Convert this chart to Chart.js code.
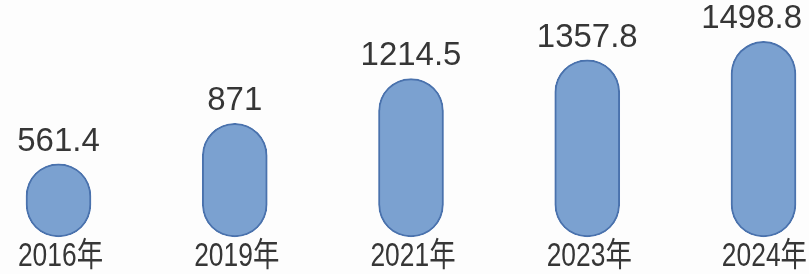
<!DOCTYPE html>
<html>
<head>
<meta charset="utf-8">
<script src="https://cdn.jsdelivr.net/npm/chart.js@4"></script>
<style>
  html, body { margin: 0; padding: 0; background: #fdfdfd; }
  #wrap { width: 809px; height: 274px; }
</style>
</head>
<body>
<div id="wrap"><canvas id="myChart"></canvas></div>
<script>
      const years = ['2016年', '2019年', '2021年', '2023年', '2024年'];
      const values = [561.4, 871, 1214.5, 1357.8, 1498.8];
      const valueLabels = ['561.4', '871', '1214.5', '1357.8', '1498.8'];

      const FONT = '"Liberation Sans", "Noto Sans CJK SC", sans-serif';

      // squeezed text, the picture uses a narrow face
      function narrowText(ctx, text, x, y, sx, maxRight) {
        const w = ctx.measureText(text).width * sx;
        if (maxRight && x + w / 2 > maxRight) x = maxRight - w / 2;
        ctx.save();
        ctx.translate(x, y);
        ctx.scale(sx, 1);
        ctx.fillText(text, 0, 0);
        ctx.restore();
      }

      // numbers above bars + year labels under them
      const labelPlugin = {
        id: 'value_labels',
        afterDatasetsDraw: (chart) => {
          const ctx = chart.ctx;
          const meta = chart.getDatasetMeta(0);
          const xScale = chart.scales.x;
          ctx.save();
          ctx.fillStyle = '#363636';
          ctx.textAlign = 'center';
          ctx.textBaseline = 'alphabetic';
          ctx.font = '34px ' + FONT;
          meta.data.forEach((bar, i) => {
            narrowText(ctx, valueLabels[i], bar.x, bar.y - 13, 0.97, chart.width - 7);
          });
          ctx.font = '33px ' + FONT;
          years.forEach((y, i) => {
            narrowText(ctx, y, xScale.getPixelForValue(i) + 2, chart.chartArea.bottom + 29, 0.8, chart.width - 2);
          });
          ctx.restore();
        }
      };

      const config = {
        type: 'bar',
        data: {
          labels: years,
          datasets: [{
            data: values,
            backgroundColor: '#7ba1d0',
            borderColor: '#4a72ad',
            borderWidth: 2,
            borderRadius: 40,
            borderSkipped: false,
            barThickness: 65,
            clip: false
          }]
        },
        options: {
          animation: false,
          responsive: true,
          maintainAspectRatio: false,
          layout: {
            padding: { left: 58.5, right: 45.5, top: 0, bottom: 37 }
          },
          plugins: {
            legend: { display: false },
            tooltip: { enabled: false }
          },
          scales: {
            x: {
              display: false,
              offset: false
            },
            y: {
              display: false,
              min: 0,
              max: 1816
            }
          }
        },
        plugins: [labelPlugin]
      };

      const myChart = new Chart(document.getElementById('myChart'), config);
</script>
</body>
</html>
